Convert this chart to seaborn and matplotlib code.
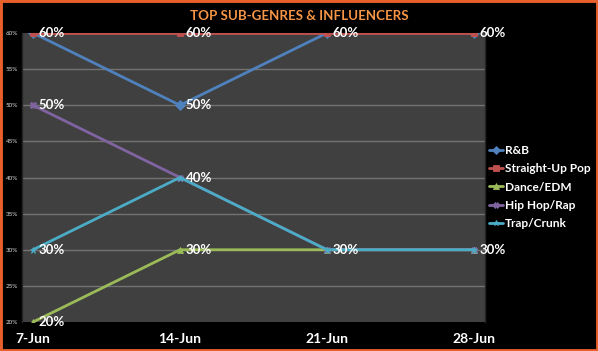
import numpy as np
import pandas as pd
import matplotlib.pyplot as plt
import seaborn as sns
from matplotlib.patches import Rectangle

# chart data (shares per week)
weeks = ["7-Jun", "14-Jun", "21-Jun", "28-Jun"]
rnb = [0.60, 0.50, 0.60, 0.60]
pop = [0.60, 0.60, 0.60, 0.60]
dance = [0.20, 0.30, 0.30, 0.30]
hiphop = [0.50, 0.40, 0.30, 0.30]
trap = [0.30, 0.40, 0.30, 0.30]
series_names = ["R&B", "Straight-Up Pop", "Dance/EDM", "Hip Hop/Rap", "Trap/Crunk"]

colors = ["#4F81BD", "#C0504D", "#9BBB59", "#8064A2", "#4BACC6"]
markers = ["D", "s", "^", "X", "*"]

rows = []
for name, vals in zip(series_names, [rnb, pop, dance, hiphop, trap]):
    for i, v in enumerate(vals):
        rows.append({"week": i, "share": v, "series": name})
df = pd.DataFrame(rows)

sns.set_style("white")
plt.rcParams["font.family"] = ["Lato", "DejaVu Sans"]

fig = plt.figure(figsize=(5.98, 3.51), dpi=100, facecolor="black")
ax = fig.add_axes([0.0368, 0.0826, 0.7742, 0.8234])
ax.set_facecolor("#404040")

for yv in np.arange(0.25, 0.60, 0.05):
    ax.axhline(yv, color="#737373", lw=1.0, zorder=0)

sns.lineplot(
    data=df, x="week", y="share", hue="series", style="series",
    hue_order=series_names, style_order=series_names,
    palette=colors, markers=dict(zip(series_names, markers)), dashes=False,
    linewidth=2, markersize=5, markeredgewidth=0.6, ax=ax, legend=True,
)
for ln in ax.lines:
    ln.set_markeredgecolor(ln.get_color())

# data labels, one per distinct point
seen = set()
for name, vals in zip(series_names, [rnb, pop, dance, hiphop, trap]):
    for i, v in enumerate(vals):
        key = (i, round(v, 2))
        if key in seen:
            continue
        seen.add(key)
        ax.annotate(f"{v * 100:.0f}%", (i, v), xytext=(4, 0), textcoords="offset points",
                    va="center", ha="left", color="white", fontsize=9.5,
                    fontweight="bold", zorder=10, annotation_clip=False)

ax.set_xlim(-0.075, 3.075)
ax.set_ylim(0.2, 0.6)
ax.set_xticks(range(len(weeks)))
ax.set_xticklabels(weeks, color="white", fontsize=10, fontweight="bold")
ax.set_yticks(np.arange(0.2, 0.601, 0.05))
ax.set_yticklabels([f"{t:.0f}%" for t in np.arange(20, 61, 5)], color="#dddddd", fontsize=4.5)
ax.tick_params(axis="x", length=0, pad=8)
ax.tick_params(axis="y", length=0, pad=3)
ax.set_xlabel("")
ax.set_ylabel("")
for side in ["top", "bottom"]:
    ax.spines[side].set_visible(False)
for side in ["left", "right"]:
    ax.spines[side].set_color("#262626")
    ax.spines[side].set_linewidth(1)

leg = ax.legend(loc="center left", bbox_to_anchor=(0.818, 0.467), bbox_transform=fig.transFigure,
                frameon=False, fontsize=8.6, handlelength=1.2, handletextpad=0.1,
                labelspacing=0.62, borderaxespad=0, borderpad=0)
for t in leg.get_texts():
    t.set_color("white")
    t.set_fontweight("bold")
for h in leg.legend_handles:
    h.set_markeredgecolor(h.get_color())
    h.set_markersize(4)

fig.text(0.5, 0.955, "TOP SUB-GENRES & INFLUENCERS", ha="center", va="center",
         color="#F79646", fontsize=9.6, fontweight="bold")

fig.patches.append(Rectangle((0, 0), 1, 1, transform=fig.transFigure, fill=False,
                             edgecolor="#E8602C", linewidth=3.5, zorder=20))

fig.savefig("out.png", dpi=100, facecolor="black")
